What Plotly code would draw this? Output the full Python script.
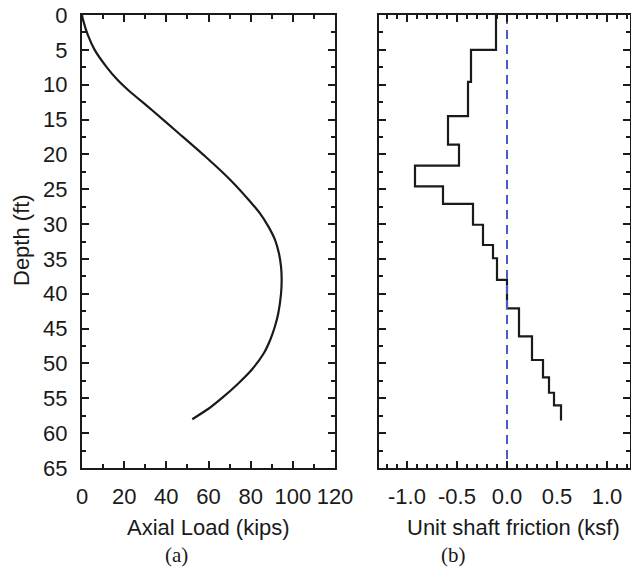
import plotly.graph_objects as go

# ---- data ----
load_depth = [0, 0.7, 2.9, 5.0, 7.4, 9.3, 10.8, 13.6, 17.0, 20.3, 23.7, 26.5,
              28.5, 30.4, 32.3, 34.2, 36.1, 38.0, 40.0, 42.8, 44.7, 46.6, 48.5,
              50.9, 52.9, 54.8, 56.5, 58.0]
axial_load = [0, 0.5, 2.8, 6.0, 11.5, 16.8, 22.0, 33.0, 46.0, 58.5, 70.5, 79.0,
              84.5, 88.5, 91.6, 93.4, 94.4, 94.7, 94.4, 93.1, 91.5, 89.3, 86.3,
              80.5, 74.0, 67.0, 60.0, 52.3]

seg_top_depth = [0, 5.0, 9.6, 14.5, 18.6, 21.6, 24.6, 27.1, 30.1, 33.0, 34.9, 38.0,
                 42.1, 46.1, 49.5, 52.0, 54.2, 56.0]
seg_friction = [-0.11, -0.36, -0.39, -0.59, -0.48, -0.92, -0.64, -0.34, -0.24, -0.14,
                -0.10, 0.00, 0.12, 0.25, 0.36, 0.42, 0.47, 0.54]
seg_bottom_depth = 58.2

depth_ticks = list(range(0, 70, 5))
load_ticks = [0, 20, 40, 60, 80, 100, 120]
fric_ticks = [-1.0, -0.5, 0.0, 0.5, 1.0]
fric_tick_text = ["-1.0", "-0.5", "0.0", "0.5", "1.0"]

W, H = 631, 571
ink = "#1a1a1a"
sans = "Liberation Sans, Arial, sans-serif"
serif = "Liberation Serif, Times New Roman, serif"

fig = go.Figure()

fig.add_trace(go.Scatter(x=axial_load, y=load_depth, mode="lines",
                         line=dict(color=ink, width=2.2, shape="spline", smoothing=0.5),
                         xaxis="x", yaxis="y", showlegend=False))

fx = seg_friction + [seg_friction[-1]]
fy = seg_top_depth + [seg_bottom_depth]
fig.add_trace(go.Scatter(x=fx, y=fy, mode="lines",
                         line=dict(color=ink, width=2.2, shape="vh"),
                         xaxis="x2", yaxis="y2", showlegend=False))

fig.add_trace(go.Scatter(x=[0, 0], y=[0, 65], mode="lines",
                         line=dict(color="#4a5cc8", width=2, dash="9px,6px"),
                         xaxis="x2", yaxis="y2", showlegend=False))

ytop = 1 - 15 / H
ybot = 1 - 468 / H
common = dict(showgrid=False, zeroline=False, showline=True, linecolor=ink, linewidth=2,
              mirror="allticks", ticks="inside", ticklen=7, tickwidth=2, tickcolor=ink,
              automargin=False,
              tickfont=dict(family=sans, size=22, color=ink))
minor_common = dict(ticklen=4, ticks="inside", tickcolor=ink, tickwidth=2)

fig.update_layout(
    template="none",
    width=W, height=H, margin=dict(l=0, r=0, t=0, b=0, autoexpand=False),
    paper_bgcolor="white", plot_bgcolor="white",
    xaxis=dict(domain=[82 / W, 335 / W], range=[0, 120], anchor="y",
               tickvals=load_ticks, ticklabelstandoff=8,
               minor=dict(dtick=10, **minor_common), **common),
    yaxis=dict(domain=[ybot, ytop], range=[65, 0], anchor="x",
               tickvals=depth_ticks, ticklabelstandoff=8,
               minor=dict(dtick=2.5, **minor_common), **common),
    xaxis2=dict(domain=[379 / W, 630 / W], range=[-1.28, 1.23], anchor="y2",
                tickvals=fric_ticks, ticktext=fric_tick_text, ticklabelstandoff=8,
                minor=dict(dtick=0.1, tick0=0, **minor_common), **common),
    yaxis2=dict(domain=[ybot, ytop], range=[65, 0], anchor="x2",
                tickvals=depth_ticks, showticklabels=False,
                minor=dict(dtick=2.5, **minor_common), **common),
)

ann = [
    dict(text="Axial Load (kips)", x=208.5 / W, y=1 - 527 / H, font=dict(family=sans, size=22, color=ink)),
    dict(text="Unit shaft friction (ksf)", x=513 / W, y=1 - 527 / H, font=dict(family=sans, size=22, color=ink)),
    dict(text="(a)", x=176 / W, y=1 - 555 / H, font=dict(family=serif, size=21, color=ink)),
    dict(text="(b)", x=453 / W, y=1 - 555 / H, font=dict(family=serif, size=21, color=ink)),
    dict(text="Depth (ft)", x=21 / W, y=1 - 240 / H, textangle=-90, font=dict(family=sans, size=22, color=ink)),
]
for a in ann:
    fig.add_annotation(xref="paper", yref="paper", showarrow=False,
                       xanchor="center", yanchor="middle", **a)

fig.write_html("out.html")
